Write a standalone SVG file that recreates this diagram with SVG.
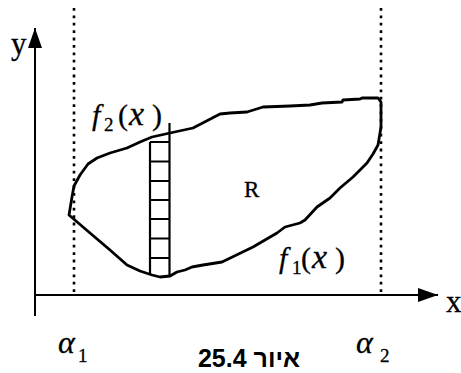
<svg xmlns="http://www.w3.org/2000/svg" width="461" height="373" viewBox="0 0 461 373">
<style>
.axis{stroke:#000;stroke-width:2;fill:none}
.dot{stroke:#000;stroke-width:2.6;stroke-dasharray:2.8 4.6;fill:none}
.curve{stroke:#000;stroke-width:2.8;fill:none;stroke-linejoin:round}
.lad{stroke:#000;stroke-width:2.2;fill:none}
.t{font-family:"Liberation Serif","Times New Roman",serif;fill:#000;stroke:#000;stroke-width:0.3}
.i{font-style:italic}
</style>
<defs>
<marker id="ah" viewBox="0 0 20 14" refX="20" refY="7" markerWidth="20" markerHeight="14" markerUnits="userSpaceOnUse" orient="auto">
<path d="M0,0 L20,7 L0,14 Z" fill="#000"/>
</marker>
</defs>
<rect width="461" height="373" fill="#fff"/>
<g id="connectors">
<line class="axis" x1="35" y1="316" x2="35" y2="28" marker-end="url(#ah)"/>
<line class="axis" x1="35" y1="295" x2="438" y2="295" marker-end="url(#ah)"/>
<line class="dot" x1="74" y1="8" x2="74" y2="295"/>
<line class="dot" x1="381" y1="8" x2="381" y2="295"/>
</g>
<g id="region">
<path class="curve" d="M69,215 L72,197 L74,186 L80,175 L88,164 L97,158 L110,153 L127,148 L140,142 L152,137 L170,133 L193,128 L220,114 L230,113 L247,112 L263,107 L290,106 L310,105 L322,103 L342,102 L343,100 L360,99 L362,98 L378,98 L381,102 L381,127 L378,145 L373,154 L367,163 L353,177 L340,188 L330,198 L317,207 L305,220 L300,223 L285,227 L277,233 L253,247 L222,262 L203,265 L192,267 L185,270 L177,272 L170,276 L160,277 L152,275 L140,271 L127,265 L110,250 L90,233 Z"/>
</g>
<g id="strip">
<line class="lad" x1="150" y1="142" x2="150" y2="275"/>
<line class="lad" x1="169.5" y1="123" x2="169.5" y2="277"/>
<path class="lad" d="M150,142H169.5M150,161.5H169.5M150,181H169.5M150,200H169.5M150,219H169.5M150,238.5H169.5M150,258H169.5"/>
</g>
<g id="labels">
<text class="t" x="11" y="54" font-size="31">y</text>
<text class="t" x="446" y="312" font-size="31">x</text>
<text class="t" x="244" y="197" font-size="23">R</text>
<text class="t" font-size="30"><tspan class="i" x="92" y="125">f</tspan><tspan font-size="19" x="104" y="131">2</tspan><tspan x="118" y="125">(</tspan><tspan class="i" font-size="34" x="129" y="125">x</tspan><tspan x="152" y="125">)</tspan></text>
<text class="t" font-size="30"><tspan class="i" x="279" y="268">f</tspan><tspan font-size="19" x="292" y="274">1</tspan><tspan x="301" y="268">(</tspan><tspan class="i" font-size="34" x="312" y="268">x</tspan><tspan x="335" y="268">)</tspan></text>
<text class="t" font-size="32"><tspan class="i" x="58" y="353">α</tspan><tspan font-size="19" x="78" y="362">1</tspan></text>
<text class="t" font-size="32"><tspan class="i" x="356" y="353">α</tspan><tspan font-size="19" x="380" y="362">2</tspan></text>
<text x="249" y="367" font-size="25" font-weight="bold" font-family="'Liberation Sans','DejaVu Sans',sans-serif" text-anchor="middle" direction="rtl" unicode-bidi="embed">איור 25.4</text>
</g>
</svg>
